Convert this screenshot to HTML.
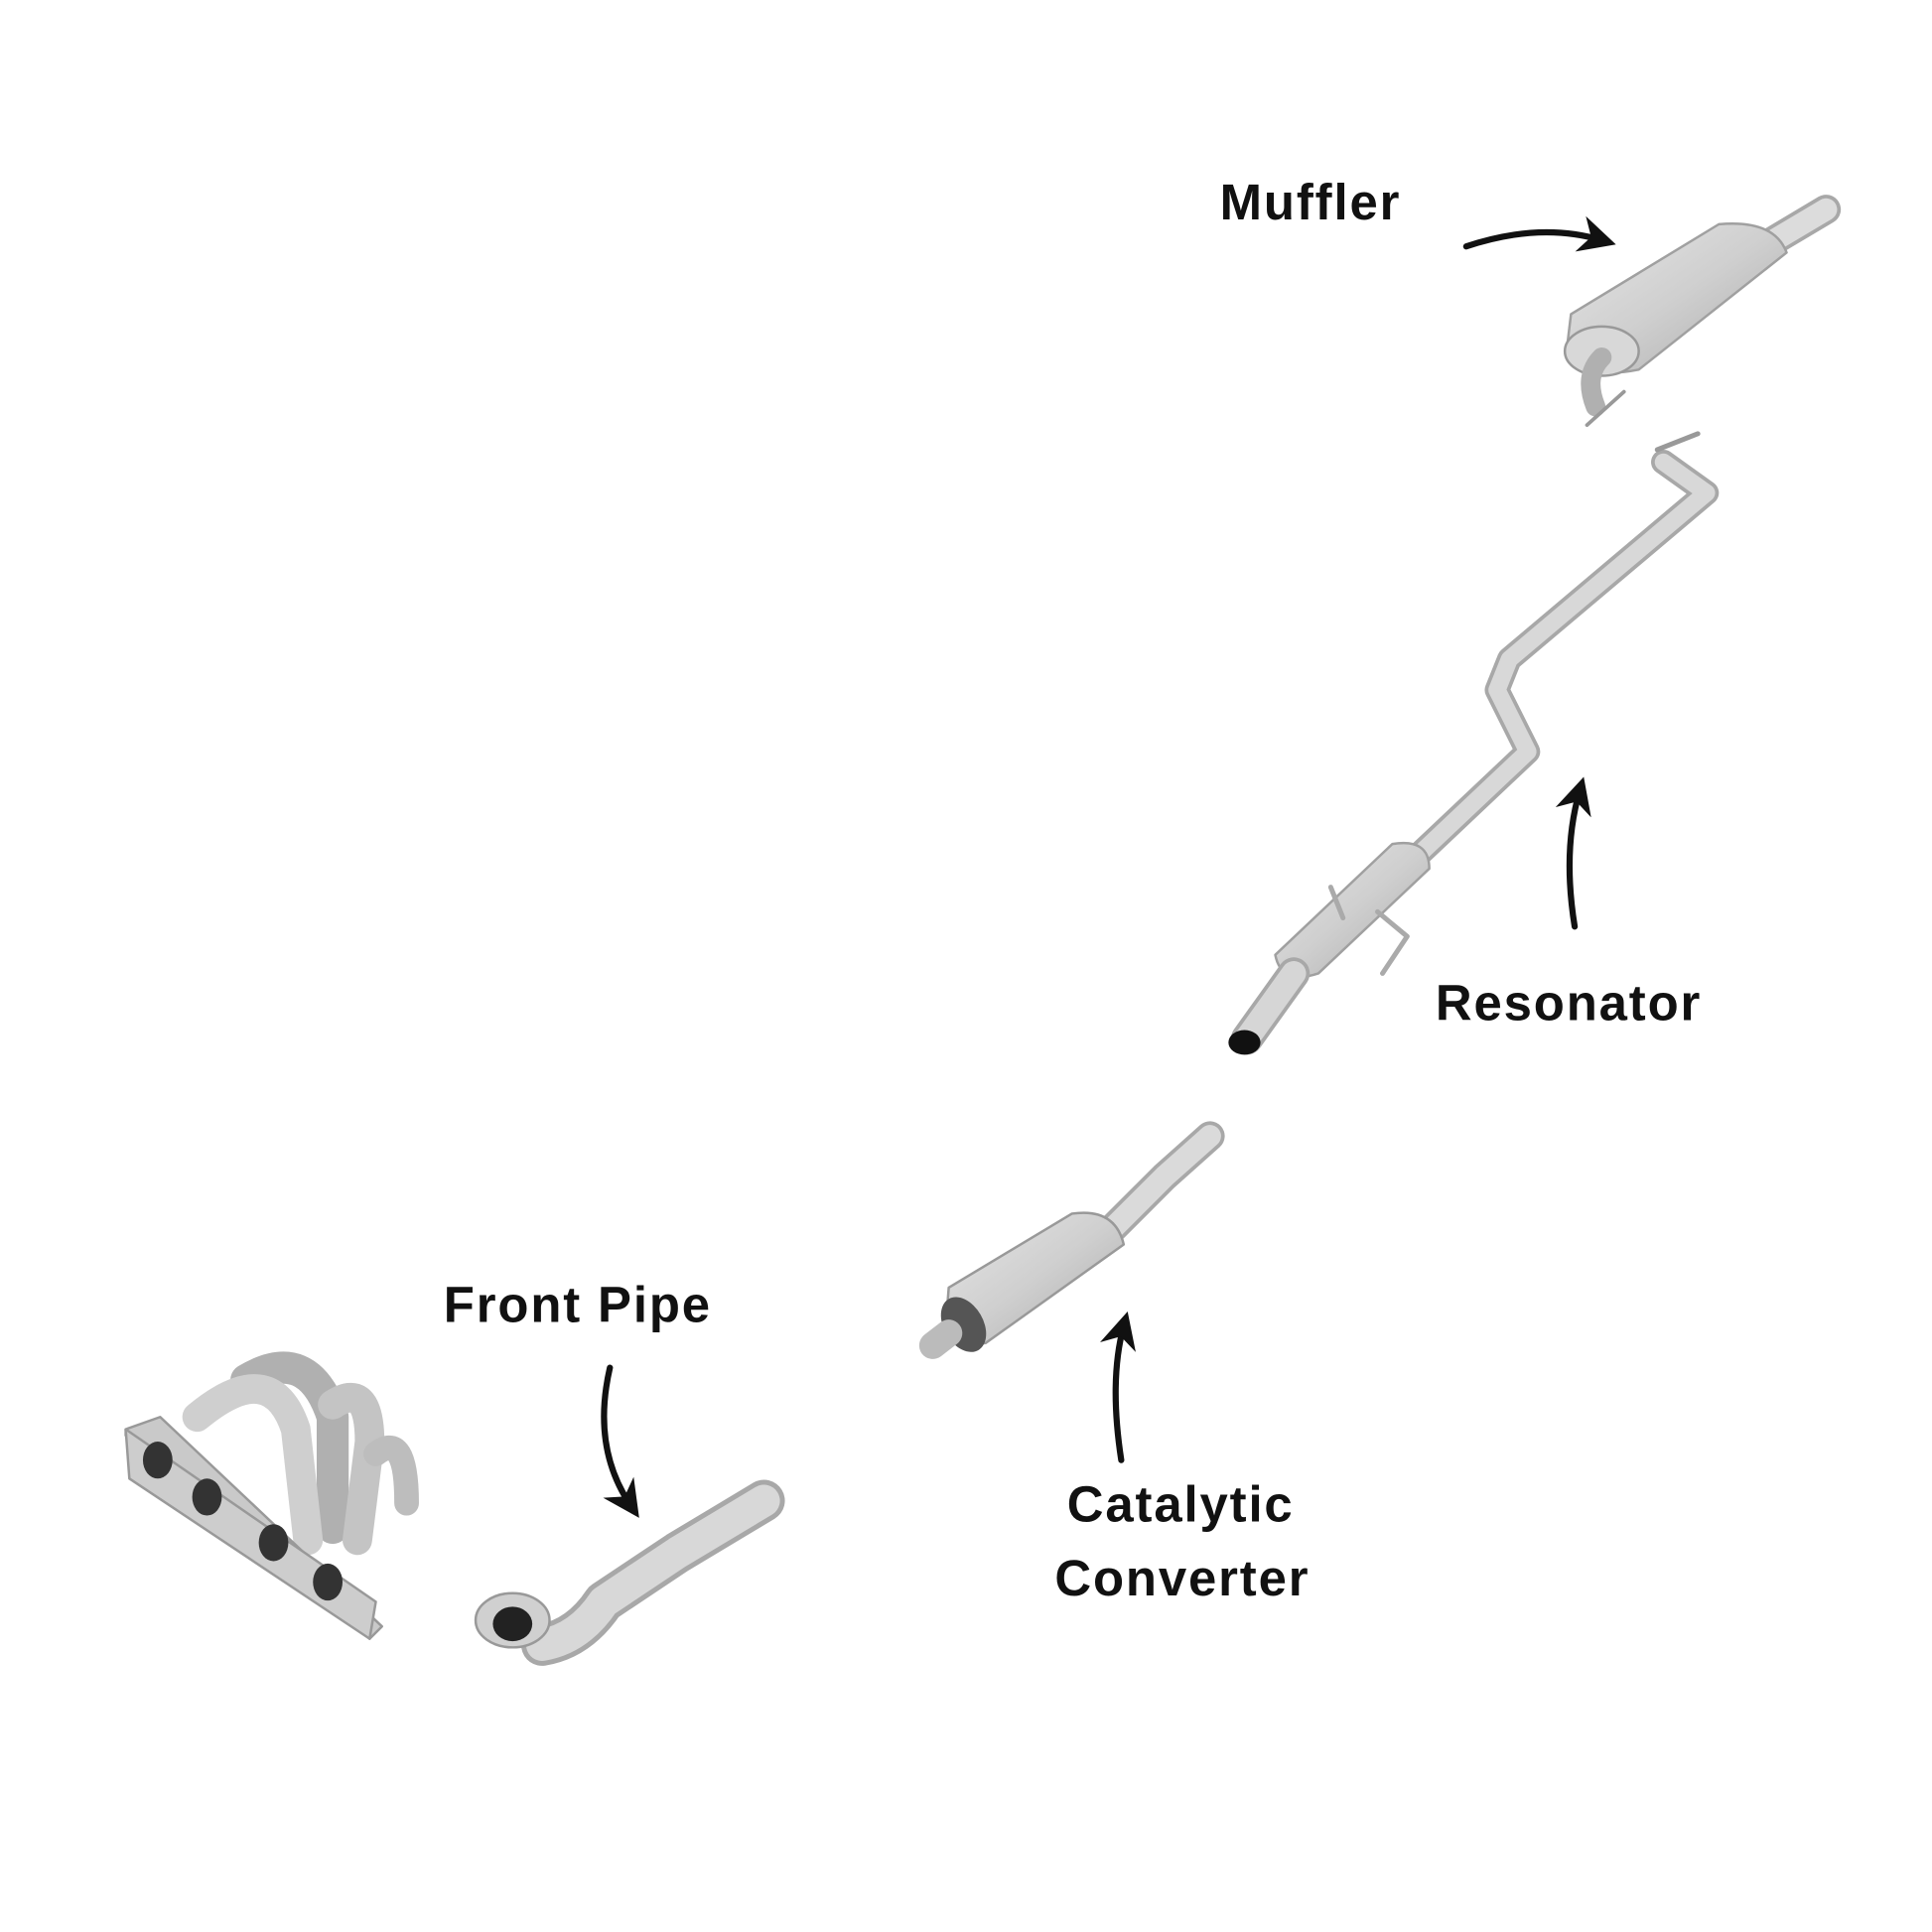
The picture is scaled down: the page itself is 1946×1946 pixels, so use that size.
<!DOCTYPE html>
<html><head><meta charset="utf-8"><style>
html,body{margin:0;padding:0;background:#fff;}
svg{display:block}
text{font-family:"Liberation Sans",sans-serif;font-size:41px;font-weight:bold;fill:#111;letter-spacing:1.5px}
</style></head><body>
<svg width="1946" height="1946" viewBox="0 0 1568 1568" xmlns="http://www.w3.org/2000/svg">
<defs>
<linearGradient id="g" x1="0" y1="0" x2="1" y2="1"><stop offset="0" stop-color="#e6e6e6"/><stop offset="0.5" stop-color="#cfcfcf"/><stop offset="1" stop-color="#a9a9a9"/></linearGradient>
<marker id="ah" viewBox="0 0 10 10" refX="6" refY="5" markerWidth="6" markerHeight="6" orient="auto"><path d="M0,0 L10,5 L0,10 L3,5z" fill="#111"/></marker>
</defs>
<g fill="none" stroke-linecap="round" stroke-linejoin="round">
<path d="M1440,195 L1482,170" stroke="#a8a8a8" stroke-width="24"/>
<path d="M1440,195 L1482,170" stroke="#dcdcdc" stroke-width="18"/>
<path d="M1275,255 L1395,182 Q1440,178 1450,205 L1330,300 Q1280,310 1272,280 Z" fill="url(#g)" stroke="#a0a0a0" stroke-width="2"/>
<ellipse cx="1300" cy="285" rx="30" ry="20" fill="#d8d8d8" stroke="#999" stroke-width="2"/>
<path d="M1300,290 Q1285,305 1295,330" stroke="#b0b0b0" stroke-width="16"/>
<path d="M1288,345 L1318,318" stroke="#999" stroke-width="3"/>
<path d="M1350,375 L1385,400 L1225,535 L1215,560 L1240,610 L1150,695" stroke="#a8a8a8" stroke-width="20"/>
<path d="M1350,375 L1385,400 L1225,535 L1215,560 L1240,610 L1150,695" stroke="#d8d8d8" stroke-width="14"/>
<path d="M1345,365 L1378,352" stroke="#999" stroke-width="4"/>
<path d="M1130,685 Q1160,680 1160,705 L1070,790 Q1040,800 1035,775 Z" fill="url(#g)" stroke="#a0a0a0" stroke-width="2"/>
<path d="M1050,790 L1012,843" stroke="#a8a8a8" stroke-width="26"/>
<path d="M1050,790 L1012,843" stroke="#d6d6d6" stroke-width="20"/>
<ellipse cx="1010" cy="846" rx="13" ry="10" fill="#111"/>
<path d="M1118,740 L1142,760 L1122,790" stroke="#aaa" stroke-width="4"/>
<path d="M1080,720 L1090,745" stroke="#aaa" stroke-width="4"/>
<path d="M982,922 L945,955 L900,1000" stroke="#a8a8a8" stroke-width="24"/>
<path d="M982,922 L945,955 L900,1000" stroke="#dadada" stroke-width="18"/>
<path d="M770,1045 L870,985 Q905,980 912,1010 L800,1090 Q772,1095 768,1070 Z" fill="url(#g)" stroke="#999" stroke-width="2"/>
<ellipse cx="782" cy="1075" rx="16" ry="24" fill="#555" transform="rotate(-30 782 1075)"/>
<path d="M770,1082 L757,1092" stroke="#bbb" stroke-width="22"/>
<path d="M620,1218 L550,1260 L490,1300 Q470,1330 440,1335" stroke="#a8a8a8" stroke-width="34"/>
<path d="M620,1218 L550,1260 L490,1300 Q470,1330 440,1335" stroke="#d8d8d8" stroke-width="26"/>
<ellipse cx="416" cy="1315" rx="30" ry="22" fill="#d0d0d0" stroke="#999" stroke-width="2"/>
<ellipse cx="416" cy="1318" rx="16" ry="14" fill="#222"/>
<path d="M200,1120 Q250,1090 270,1150 L270,1240" stroke="#b0b0b0" stroke-width="26"/>
<path d="M160,1150 Q220,1100 240,1160 L250,1250" stroke="#cfcfcf" stroke-width="24"/>
<path d="M270,1140 Q300,1120 300,1170 L290,1250" stroke="#c4c4c4" stroke-width="24"/>
<path d="M305,1180 Q330,1160 330,1220" stroke="#bdbdbd" stroke-width="20"/>
<path d="M102,1160 L130,1150 L310,1320 L300,1330 L102,1165 Z" fill="#c9c9c9" stroke="#999" stroke-width="2"/>
<path d="M102,1160 L105,1200 L300,1330 L305,1300 Z" fill="#cdcdcd" stroke="#999" stroke-width="2"/>
<ellipse cx="128" cy="1185" rx="12" ry="15" fill="#333"/>
<ellipse cx="168" cy="1215" rx="12" ry="15" fill="#333"/>
<ellipse cx="222" cy="1252" rx="12" ry="15" fill="#333"/>
<ellipse cx="266" cy="1284" rx="12" ry="15" fill="#333"/>
<g stroke="#111" stroke-width="5">
<path d="M1190,200 Q1250,180 1300,195" marker-end="url(#ah)"/>
<path d="M1278,752 Q1268,690 1282,642" marker-end="url(#ah)"/>
<path d="M910,1185 Q900,1120 912,1076" marker-end="url(#ah)"/>
<path d="M495,1110 Q480,1175 512,1222" marker-end="url(#ah)"/>
</g>
</g>
<text x="990" y="178">Muffler</text>
<text x="1165" y="828">Resonator</text>
<text x="866" y="1235">Catalytic</text>
<text x="856" y="1295">Converter</text>
<text x="360" y="1073">Front Pipe</text>
</svg>
</body></html>
